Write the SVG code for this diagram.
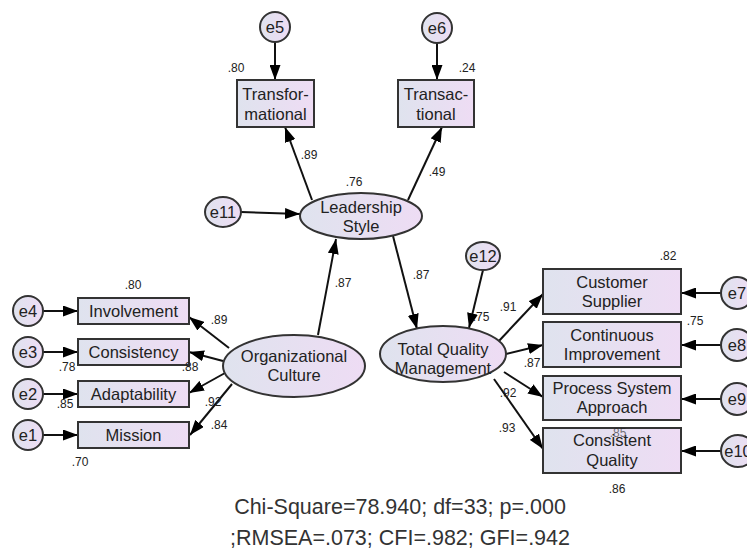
<svg xmlns="http://www.w3.org/2000/svg" width="747" height="551" viewBox="0 0 747 551">
<defs>
<linearGradient id="g" x1="0" y1="0" x2="1" y2="0">
<stop offset="0" stop-color="#dfe3ee"/>
<stop offset="1" stop-color="#eedcf4"/>
</linearGradient>
<marker id="ah" markerUnits="userSpaceOnUse" markerWidth="15" markerHeight="11" refX="15" refY="5.5" orient="auto">
<path d="M0,0 L15,5.5 L0,11 z" fill="#000"/>
</marker>
</defs>
<style>
.box{fill:url(#g);stroke:#333;stroke-width:2}
.ell{fill:url(#g);stroke:#333;stroke-width:2}
.err{fill:url(#g);stroke:#333;stroke-width:2}
.t{font-family:"Liberation Sans",Arial,sans-serif;font-size:16.5px;fill:#222;text-anchor:middle}
.et{font-family:"Liberation Sans",Arial,sans-serif;font-size:16.5px;fill:#222;text-anchor:middle}
.lb{font-family:"Liberation Sans",Arial,sans-serif;font-size:12px;fill:#222;text-anchor:middle}
.ft{font-family:"Liberation Sans",Arial,sans-serif;font-size:21.5px;fill:#333;text-anchor:middle}
.c{stroke:#111;stroke-width:2;fill:none;marker-end:url(#ah)}
</style>
<rect width="747" height="551" fill="#fff"/>
<g id="connectors">
<line class="c" x1="275" y1="42" x2="275" y2="80"/>
<line class="c" x1="437" y1="43" x2="437" y2="80"/>
<line class="c" x1="312" y1="200" x2="285" y2="127"/>
<line class="c" x1="408" y1="200" x2="442" y2="127"/>
<line class="c" x1="241" y1="212" x2="300" y2="214"/>
<line class="c" x1="318" y1="335" x2="336" y2="239"/>
<line class="c" x1="393" y1="236" x2="417" y2="329"/>
<line class="c" x1="483" y1="270" x2="469" y2="328"/>
<line class="c" x1="43" y1="311" x2="78" y2="311"/>
<line class="c" x1="43" y1="352" x2="78" y2="352"/>
<line class="c" x1="43" y1="394" x2="78" y2="394"/>
<line class="c" x1="43" y1="435" x2="78" y2="435"/>
<line class="c" x1="229" y1="348" x2="189" y2="317"/>
<line class="c" x1="223" y1="361" x2="189" y2="352"/>
<line class="c" x1="225" y1="373" x2="189" y2="393"/>
<line class="c" x1="232" y1="384" x2="190" y2="435"/>
<line class="c" x1="498" y1="342" x2="543" y2="294"/>
<line class="c" x1="506" y1="354" x2="543" y2="345"/>
<line class="c" x1="504" y1="372" x2="543" y2="397"/>
<line class="c" x1="494" y1="379" x2="543" y2="449"/>
<line class="c" x1="721" y1="293" x2="681" y2="293"/>
<line class="c" x1="721" y1="345" x2="681" y2="345"/>
<line class="c" x1="721" y1="399" x2="681" y2="399"/>
<line class="c" x1="721" y1="451" x2="681" y2="451"/>
</g>
<g id="e5"><circle class="err" cx="275" cy="27" r="15"/><text class="et" x="275" y="33">e5</text></g>
<g id="e6"><circle class="err" cx="437" cy="28" r="15"/><text class="et" x="437" y="34">e6</text></g>
<g id="transformational"><rect class="box" x="237" y="80" width="77" height="47"/><text class="t" x="275.5" y="100">Transfor-</text><text class="t" x="275.5" y="120">mational</text></g>
<g id="transactional"><rect class="box" x="398" y="80" width="76" height="47"/><text class="t" x="436" y="100">Transac-</text><text class="t" x="436" y="120">tional</text></g>
<g id="e11"><ellipse class="err" cx="223" cy="212" rx="18" ry="15"/><text class="et" x="223" y="218">e11</text></g>
<g id="leadership"><ellipse class="ell" cx="361" cy="216" rx="61" ry="23"/><text class="t" x="361" y="213">Leadership</text><text class="t" x="361" y="232">Style</text></g>
<g id="e4"><circle class="err" cx="28" cy="311" r="15"/><text class="et" x="28" y="317">e4</text></g>
<g id="e3"><circle class="err" cx="28" cy="352" r="15"/><text class="et" x="28" y="358">e3</text></g>
<g id="e2"><circle class="err" cx="28" cy="394" r="15"/><text class="et" x="28" y="400">e2</text></g>
<g id="e1"><circle class="err" cx="28" cy="435" r="15"/><text class="et" x="28" y="441">e1</text></g>
<g id="involvement"><rect class="box" x="78" y="298" width="111" height="26"/><text class="t" x="133.5" y="317">Involvement</text></g>
<g id="consistency"><rect class="box" x="78" y="339" width="111" height="26"/><text class="t" x="133.5" y="358">Consistency</text></g>
<g id="adaptability"><rect class="box" x="78" y="381" width="111" height="26"/><text class="t" x="133.5" y="400">Adaptability</text></g>
<g id="mission"><rect class="box" x="78" y="422" width="111" height="26"/><text class="t" x="133.5" y="441">Mission</text></g>
<g id="orgculture"><ellipse class="ell" cx="294" cy="366" rx="71" ry="31"/><text class="t" x="294" y="362">Organizational</text><text class="t" x="294" y="381">Culture</text></g>
<g id="e12"><ellipse class="err" cx="483" cy="256" rx="17" ry="14"/><text class="et" x="483" y="262">e12</text></g>
<g id="tqm"><ellipse class="ell" cx="443" cy="354" rx="63" ry="28"/><text class="t" x="443" y="355">Total Quality</text><text class="t" x="443" y="374">Management</text></g>
<g id="customer"><rect class="box" x="543" y="269" width="138" height="45"/><text class="t" x="612" y="288">Customer</text><text class="t" x="612" y="307">Supplier</text></g>
<g id="continuous"><rect class="box" x="543" y="322" width="138" height="45"/><text class="t" x="612" y="341">Continuous</text><text class="t" x="612" y="360">Improvement</text></g>
<g id="process"><rect class="box" x="543" y="376" width="138" height="44"/><text class="t" x="612" y="394">Process System</text><text class="t" x="612" y="413">Approach</text></g>
<g id="consistentq"><rect class="box" x="543" y="428" width="138" height="45"/><text class="lb" x="618" y="437" fill-opacity="0.6">.85</text><text class="t" x="612" y="446">Consistent</text><text class="t" x="612" y="466">Quality</text></g>
<g id="e7"><circle class="err" cx="737" cy="293" r="16"/><text class="et" x="737" y="299">e7</text></g>
<g id="e8"><circle class="err" cx="737" cy="345" r="16"/><text class="et" x="737" y="351">e8</text></g>
<g id="e9"><circle class="err" cx="737" cy="399" r="16"/><text class="et" x="737" y="405">e9</text></g>
<g id="e10"><ellipse class="err" cx="738" cy="451" rx="17" ry="16"/><text class="et" x="738" y="457">e10</text></g>
<g id="labels">
<text class="lb" x="236" y="72">.80</text>
<text class="lb" x="467" y="72">.24</text>
<text class="lb" x="309" y="159">.89</text>
<text class="lb" x="437" y="176">.49</text>
<text class="lb" x="354" y="186">.76</text>
<text class="lb" x="343" y="287">.87</text>
<text class="lb" x="133" y="289">.80</text>
<text class="lb" x="219" y="324">.89</text>
<text class="lb" x="67" y="371">.78</text>
<text class="lb" x="190" y="371">.88</text>
<text class="lb" x="65" y="408">.85</text>
<text class="lb" x="213" y="406">.92</text>
<text class="lb" x="219" y="429">.84</text>
<text class="lb" x="80" y="466">.70</text>
<text class="lb" x="421" y="279">.87</text>
<text class="lb" x="481" y="321">.75</text>
<text class="lb" x="508" y="311">.91</text>
<text class="lb" x="532" y="367">.87</text>
<text class="lb" x="508" y="397">.92</text>
<text class="lb" x="507" y="432">.93</text>
<text class="lb" x="668" y="260">.82</text>
<text class="lb" x="695" y="325">.75</text>
<text class="lb" x="617" y="493">.86</text>
</g>
<g id="footer">
<text class="ft" x="400" y="514">Chi-Square=78.940; df=33; p=.000</text>
<text class="ft" x="400" y="545">;RMSEA=.073; CFI=.982; GFI=.942</text>
</g>
</svg>
